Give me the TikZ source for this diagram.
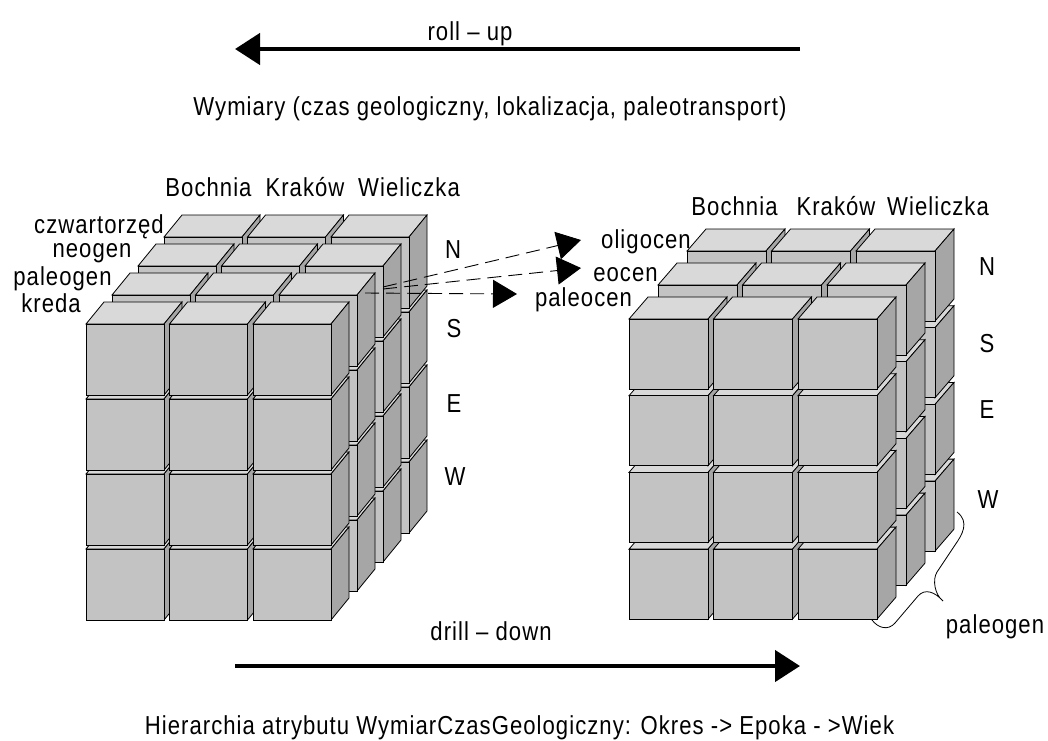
\documentclass[tikz,border=0pt]{standalone}
\usepackage{fontspec}
\setmainfont{Liberation Sans}[FakeStretch=0.85,LetterSpace=4]
\usetikzlibrary{arrows.meta,calc}

\definecolor{cfront}{HTML}{C3C3C3}
\definecolor{ctop}{HTML}{D9D9D9}
\definecolor{cside}{HTML}{A6A6A6}

\tikzset{
  lbl/.style={inner sep=0pt, font=\fontsize{26}{30}\selectfont},
  frontface/.style={fill=cfront, draw=black, line width=0.8pt},
  topface/.style={fill=ctop, draw=black, line width=0.8pt},
  sideface/.style={fill=cside, draw=black, line width=0.8pt},
  bigarrow/.style={line width=4.5pt, -{Triangle[length=25pt,width=31pt]}},
  dasharrow/.style={line width=0.9pt, dash pattern=on 14pt off 7pt, -{Triangle[length=24pt,width=28pt]}},
  bracestyle/.style={line width=0.8pt, draw=black}
}

% x0 y0 w h px py ncols nrows  (uses \cdx \cdy)
\newcommand{\cubelayer}[8]{%
  \foreach \cc in {1,...,#7}{
    \foreach \rr in {#8,...,1}{
      \pgfmathsetmacro\xx{#1+(\cc-1)*#5}
      \pgfmathsetmacro\yy{#2+(\rr-1)*#6}
      \filldraw[topface] (\xx,\yy) -- ++(\cdx,-\cdy) -- ++(#3,0) -- ++(-\cdx,\cdy) -- cycle;
      \filldraw[sideface] ($(\xx,\yy)+(#3,0)$) -- ++(\cdx,-\cdy) -- ++(0,#4) -- ++(-\cdx,\cdy) -- cycle;
    }}
  \foreach \cc in {1,...,#7}{
    \foreach \rr in {1,...,#8}{
      \pgfmathsetmacro\xx{#1+(\cc-1)*#5}
      \pgfmathsetmacro\yy{#2+(\rr-1)*#6}
      \filldraw[frontface] (\xx,\yy) rectangle ++(#3,#4);
    }}
}

\begin{document}
\begin{tikzpicture}[x=1pt,y=-1pt]
\useasboundingbox (0,0) rectangle (1048,740);

% ---------- left cube ----------
\def\cdx{18}\def\cdy{22}
\foreach \k in {3,2,1,0}{
  \pgfmathsetmacro\lx{86+26*\k}
  \pgfmathsetmacro\ly{324-29*\k}
  \cubelayer{\lx}{\ly}{78}{71}{83.5}{75}{3}{4}
}

% ---------- right cube ----------
\def\cdx{19}\def\cdy{22}
\foreach \k in {2,1,0}{
  \pgfmathsetmacro\lx{629+29*\k}
  \pgfmathsetmacro\ly{319-34*\k}
  \cubelayer{\lx}{\ly}{79}{70}{84.5}{76.7}{3}{4}
}

% ---------- top ----------
\node[lbl, anchor=base] (rollup) at (470,40) {roll – up};
\coordinate (ruA) at (800,49);
\coordinate (ruB) at (235,49);
\draw[bigarrow] (ruA) -- (ruB);
\node[lbl, anchor=base] (wym) at (490,115) {Wymiary (czas geologiczny, lokalizacja, paleotransport)};

% ---------- left labels ----------
\node[lbl, anchor=base] (lboch) at (208.5,196) {Bochnia};
\node[lbl, anchor=base] (lkrak) at (305,196) {Kraków};
\node[lbl, anchor=base] (lwiel) at (409,196) {Wieliczka};
\node[lbl, anchor=base] (czw) at (99,233) {czwartorzęd};
\node[lbl, anchor=base] (neo) at (92,257) {neogen};
\node[lbl, anchor=base] (pal) at (62.5,285) {paleogen};
\node[lbl, anchor=base] (kre) at (51,312) {kreda};
\node[lbl, anchor=base] (lN) at (453,258) {N};
\node[lbl, anchor=base] (lS) at (454,337) {S};
\node[lbl, anchor=base] (lE) at (454,412) {E};
\node[lbl, anchor=base] (lW) at (455,485) {W};

% ---------- right labels ----------
\node[lbl, anchor=base] (rboch) at (734.5,215) {Bochnia};
\node[lbl, anchor=base] (rkrak) at (836,215) {Kraków};
\node[lbl, anchor=base] (rwiel) at (938,215) {Wieliczka};
\node[lbl, anchor=base] (oli) at (646,248) {oligocen};
\node[lbl, anchor=base] (eoc) at (625.5,281) {eocen};
\node[lbl, anchor=base] (plc) at (583.5,306) {paleocen};
\node[lbl, anchor=base] (rN) at (987,275) {N};
\node[lbl, anchor=base] (rS) at (987,352) {S};
\node[lbl, anchor=base] (rE) at (987,418) {E};
\node[lbl, anchor=base] (rW) at (988,508) {W};
\node[lbl, anchor=base] (rpal) at (995,633) {paleogen};

% ---------- dashed arrows ----------
\coordinate (dsA) at (383,287);
\coordinate (dsB) at (383,289);
\coordinate (dsC) at (365,293);
\coordinate (dtA) at (581,240);
\coordinate (dtB) at (581,268);
\coordinate (dtC) at (517,294);
\draw[dasharrow] (dsA) -- (dtA);
\draw[dasharrow] (dsB) -- (dtB);
\draw[dasharrow] (dsC) -- (dtC);

% ---------- brace ----------
\draw[bracestyle] (957,512) .. controls (970,522) and (962,535) .. (955,545)
  -- (937,572) .. controls (932,580) and (935,595) .. (943,601)
  .. controls (935,592) and (925,588) .. (918,596)
  -- (895,623) .. controls (888,631) and (878,628) .. (872,620);

% ---------- bottom ----------
\node[lbl, anchor=base] (drill) at (491,640) {drill – down};
\coordinate (ddA) at (235,666);
\coordinate (ddB) at (800,666);
\draw[bigarrow] (ddA) -- (ddB);
\node[lbl, anchor=base] (hier) at (519.5,734) {Hierarchia atrybutu WymiarCzasGeologiczny: Okres -> Epoka - >Wiek};
\end{tikzpicture}
\end{document}
